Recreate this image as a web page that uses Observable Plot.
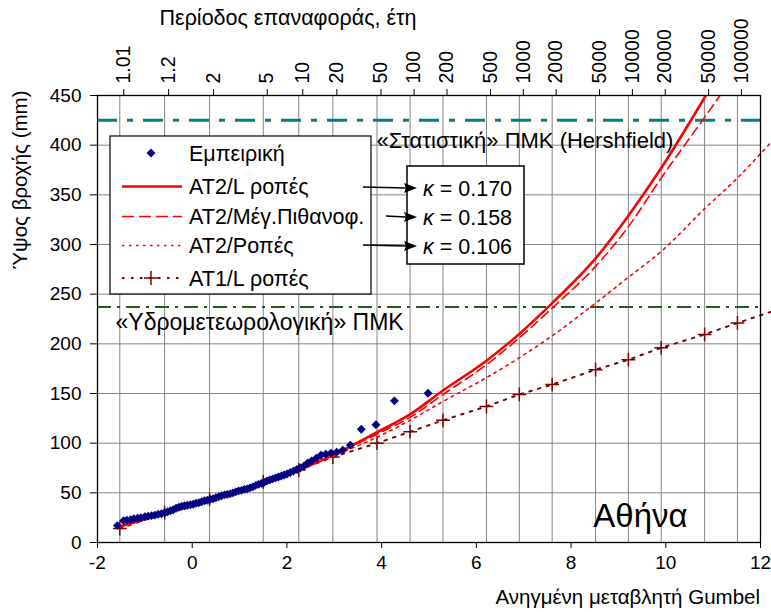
<!DOCTYPE html>
<html><head><meta charset="utf-8">
<script src="https://cdn.jsdelivr.net/npm/d3@7"></script>
<script src="https://cdn.jsdelivr.net/npm/@observablehq/plot@0.6"></script>
<style>
body{margin:0;background:#fff;font-family:"Liberation Sans",Arial,sans-serif;}
#wrap{position:relative;width:771px;height:612px;overflow:hidden;}
#wrap svg.ov{position:absolute;left:0;top:0;pointer-events:none;}
</style></head><body><div id="wrap"></div>
<script>
// ---- data ----
const returnPeriods = [1.01,1.2,2,5,10,20,50,100,200,500,1000,2000,5000,10000,20000,50000,100000];
const topTickLabels = ["1.01","1.2","2","5","10","20","50","100","200","500","1000","2000","5000","10000","20000","50000","100000"];
const bottomTicks = [-2,0,2,4,6,8,10,12];
const yTicks = [0,50,100,150,200,250,300,350,400,450];

// empirical (Gumbel reduced variate, rainfall mm)
const empX = [-1.58,-1.45,-1.38,-1.30,-1.23,-1.15,-1.08,-1.00,-0.93,-0.86,-0.79,-0.72,-0.65,-0.58,-0.52,-0.46,-0.40,-0.34,-0.28,-0.22,-0.16,-0.10,-0.04,0.02,0.08,0.14,0.20,0.26,0.32,0.38,0.44,0.50,0.56,0.62,0.68,0.74,0.80,0.86,0.92,0.98,1.04,1.10,1.16,1.22,1.28,1.34,1.40,1.46,1.52,1.58,1.64,1.70,1.76,1.82,1.88,1.94,2.00,2.07,2.14,2.21,2.28,2.36,2.44,2.52,2.62,2.72,2.82,2.93,3.05,3.18,3.34,3.57,3.88,4.27,4.98];
const empY = [17,22,22.5,23,24,24.5,25,26,26.5,27,27.5,28.5,29,30,31,32,33,34.5,35.5,36.5,37,37.5,38,38.5,39.5,40,41,42,42.5,43.5,44,45,46,47,48,48.5,49,50,51,52,52.5,53.5,54,55,56,57.5,58.5,59.5,60.5,62,63,64,65,66,67,68,69,70.5,72,73.5,75,77,80,82,85,88,89,90,91,93,98,114,118.5,142.6,150.3];

// AT2 (GEV) curves, values at the return periods (mm)
const at2LmomT = [...returnPeriods];
const at2LmomY = [16,29,42,60,73,88,111,129,153,183,210,241,286,329,377,448,505];
const at2MlT = [...returnPeriods];
const at2MlY = [16,29,42,60,73,88,109,126,149,179,206,236,278,318,367,428,475];
const at2MomT = [...returnPeriods, 200000];
const at2MomY = [16,29,42,60,73,87,106,123,142,166,186,208,241,267,293,336,367,402];
// AT1 (Gumbel) L-moments
const at1T = [...returnPeriods, 200000];
const at1Y = [14,30,43.5,61,73,86,100,111.5,123,137,149,159,174,184,196,209.5,221,232];

// PMP levels
const pmpStat = [425];
const pmpHydro = [237];

const kappas = ["0.170","0.158","0.106"];
const legendLabels = ["Εμπειρική","ΑΤ2/L ροπές","ΑΤ2/Μέγ.Πιθανοφ.","ΑΤ2/Ροπές","ΑΤ1/L ροπές"];

// ---- helpers ----
const gumbel = T => -Math.log(-Math.log(1 - 1/T));
const topTicks = returnPeriods.map(gumbel);
const topLabelMap = new Map(topTicks.map((v,i)=>[v, topTickLabels[i]]));
const series = (T, Y) => T.map((t,i)=>({x: gumbel(t), y: Y[i], T: t}));
const emp = empX.map((x,i)=>({x, y: empY[i]}));
const sL = series(at2LmomT, at2LmomY);
const sML = series(at2MlT, at2MlY);
const sM = series(at2MomT, at2MomY);
const s1 = series(at1T, at1Y);

const FONT = '"Liberation Sans", Arial, sans-serif';

const chart = Plot.plot({
  width: 771, height: 612,
  marginTop: 95, marginBottom: 70, marginLeft: 97, marginRight: 11,
  x: {domain: [-2, 12]},
  y: {domain: [0, 450]},
  style: {fontFamily: FONT, fontSize: "19px", color: "#000", background: "transparent", overflow: "visible"},
  marks: [
    Plot.gridX(topTicks, {stroke: "#858585", strokeOpacity: 1, strokeWidth: 1}),
    Plot.gridY(yTicks.filter(d => d > 0 && d < 450), {stroke: "#858585", strokeOpacity: 1, strokeWidth: 1}),
    Plot.ruleY(pmpStat, {stroke: "#008080", strokeWidth: 3, strokeDasharray: "20,10,6,10"}),
    Plot.ruleY(pmpHydro, {stroke: "#1f5a1f", strokeWidth: 2, strokeDasharray: "14,6,3,6"}),
    Plot.text(pmpStat, {y: d => d, x: 10.16, text: () => "«Στατιστική» ΠΜΚ (Hershfield)", textAnchor: "end", dy: 21, fontSize: 22}),
    Plot.text(pmpHydro, {y: d => d, x: -1.62, text: () => "«Υδρομετεωρολογική» ΠΜΚ", textAnchor: "start", dy: 16, fontSize: 23}),
    Plot.line(s1, {x: "x", y: "y", stroke: "#800000", strokeWidth: 2, strokeDasharray: "2.5,6.5"}),
    Plot.dot(s1.filter(d => d.T <= 100000), {x: "x", y: "y", symbol: "plus", r: 4.5, stroke: "#800000", strokeWidth: 1.5}),
    Plot.line(sM, {x: "x", y: "y", stroke: "#ff0000", strokeWidth: 1.6, strokeDasharray: "2.5,4.5", curve: "monotone-x"}),
    Plot.line(sML, {x: "x", y: "y", stroke: "#ff0000", strokeWidth: 1.6, strokeDasharray: "9,5", clip: true, curve: "monotone-x"}),
    Plot.line(sL, {x: "x", y: "y", stroke: "#ff0000", strokeWidth: 2.6, clip: true, curve: "monotone-x"}),
    Plot.dot(emp, {x: "x", y: "y", symbol: "diamond2", r: 4, fill: "#000080", stroke: "none"}),
    Plot.text(["Αθήνα"], {frameAnchor: "bottom-left", x: 8.47, textAnchor: "start", dy: -16, fontSize: 33}),
    Plot.frame({stroke: "#000", strokeWidth: 1.3}),
    Plot.axisX({anchor: "bottom", ticks: bottomTicks, tickSize: 6, tickPadding: 7, label: null, tickFormat: d => String(d)}),
    Plot.axisX(topTicks, {anchor: "top", tickRotate: -90, tickSize: 7, tickPadding: 5, dx: 4, label: null, fontSize: 19.5, tickFormat: d => topLabelMap.get(d)}),
    Plot.axisY({ticks: yTicks, tickSize: 7, tickPadding: 9, label: null})
  ]
});

const wrap = document.getElementById("wrap");
wrap.appendChild(chart);

// ---- overlay: titles, legend, kappa box ----
const ns = "http://www.w3.org/2000/svg";
const ov = document.createElementNS(ns, "svg");
ov.setAttribute("class", "ov");
ov.setAttribute("width", 771); ov.setAttribute("height", 612);
ov.style.fontFamily = FONT;
function el(tag, attrs, text) {
  const e = document.createElementNS(ns, tag);
  for (const k in attrs) e.setAttribute(k, attrs[k]);
  if (text != null) e.textContent = text;
  ov.appendChild(e);
  return e;
}
el("text", {x: 288, y: 25, "text-anchor": "middle", "font-size": 21.5}, "Περίοδος επαναφοράς, έτη");
el("text", {x: 0, y: 0, "text-anchor": "middle", "font-size": 20.5, transform: "translate(27,180) rotate(-90)"}, "Ύψος βροχής (mm)");
el("text", {x: 760, y: 604, "text-anchor": "end", "font-size": 20.5}, "Ανηγμένη μεταβλητή Gumbel");

// legend
el("rect", {x: 110, y: 136, width: 261, height: 158, fill: "#fff", stroke: "#000", "stroke-width": 1.2});
const rows = [153, 186.5, 216.5, 245.5, 278];
el("path", {d: `M151,${rows[0]-4.5}L155.5,${rows[0]}L151,${rows[0]+4.5}L146.5,${rows[0]}Z`, fill: "#000080"});
el("line", {x1: 122, x2: 182, y1: rows[1], y2: rows[1], stroke: "#ff0000", "stroke-width": 2.6});
el("line", {x1: 122, x2: 182, y1: rows[2], y2: rows[2], stroke: "#ff0000", "stroke-width": 1.6, "stroke-dasharray": "12,5"});
el("line", {x1: 122, x2: 182, y1: rows[3], y2: rows[3], stroke: "#ff0000", "stroke-width": 1.6, "stroke-dasharray": "2.5,4.5"});
el("line", {x1: 122, x2: 182, y1: rows[4], y2: rows[4], stroke: "#800000", "stroke-width": 2, "stroke-dasharray": "2.5,6.5"});
el("path", {d: `M144,${rows[4]}H158M151,${rows[4]-7}V${rows[4]+7}`, stroke: "#800000", "stroke-width": 1.5, fill: "none"});
legendLabels.forEach((t, i) => el("text", {x: 189, y: rows[i] + 7.5, "font-size": 21.5}, t));

// kappa box
el("rect", {x: 407, y: 166, width: 117, height: 98, fill: "#fff", stroke: "#000", "stroke-width": 1.5});
const kRows = [188, 217, 246];
kappas.forEach((k, i) => {
  const t = el("text", {x: 423, y: kRows[i] + 7.5, "font-size": 21.5});
  const a = document.createElementNS(ns, "tspan"); a.setAttribute("font-style", "italic"); a.textContent = "κ";
  const b = document.createElementNS(ns, "tspan"); b.textContent = " = " + k;
  t.appendChild(a); t.appendChild(b);
});
// arrows
const arrowStarts = [363, 386, 363];
kRows.forEach((y, i) => {
  el("line", {x1: arrowStarts[i], x2: 406, y1: y - 1, y2: y, stroke: "#000", "stroke-width": 1.5});
  el("path", {d: `M417,${y}L404,${y-5}L406,${y}L404,${y+5}Z`, fill: "#000"});
});
wrap.appendChild(ov);
</script>
</body></html>
